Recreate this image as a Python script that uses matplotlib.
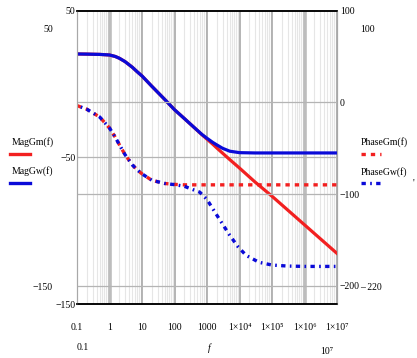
import numpy as np
import matplotlib.pyplot as plt
from matplotlib.lines import Line2D
from matplotlib.ticker import FixedLocator, NullFormatter

plt.rcParams["font.family"] = ["Liberation Serif", "DejaVu Serif"]
plt.rcParams["font.size"] = 7

# ---- data ----
# magnitude, dB (left axis)
f_mag = [0.1, 0.2, 0.5, 1, 1.5, 2, 3, 5, 7, 10, 20, 50, 100, 200, 500,
         700, 1000, 1500, 2000, 3000, 5000, 1e4, 3e4, 1e5, 1e6, 1e7]
mag_gw = [20.5, 20.4, 20.2, 19.8, 18.8, 17.6, 15.3, 11.5, 8.5, 5.5, -1.5, -10.5,
          -17.5, -23.5, -31.5, -34.4, -37.0, -39.8, -41.5, -43.8, -45.8, -46.8,
          -47.0, -47.0, -47.0, -47.0]
mag_gm = [20.5, 20.4, 20.2, 19.8, 18.8, 17.6, 15.3, 11.5, 8.5, 5.5, -1.5, -10.5,
          -17.5, -23.5, -31.6, -34.6, -37.6, -41.0, -43.6, -47.1, -51.5, -57.3,
          -66.8, -76.5, -96.0, -115.5]

# phase, deg (right axis)
f_ph = [0.1, 0.2, 0.5, 1, 1.5, 2, 3, 5, 7, 10, 20, 50, 100, 200, 300, 600,
        1000, 2000, 5000, 9000, 1.6e4, 4e4, 1e5, 3e5, 1e6, 1e7]
ph_gm = [-3.5, -7.5, -16, -28, -38, -46, -57, -68, -73.5, -78, -85, -88.5,
         -89.5, -90, -90, -90, -90, -90, -90, -90, -90, -90, -90, -90, -90, -90]
ph_gw = [-3.5, -7.5, -16, -28, -38, -46, -57, -68, -73.5, -78, -85, -88.5,
         -89.8, -91.5, -94, -98, -106, -123, -145, -157.5, -167, -174.5,
         -177.5, -178.6, -179, -179]

x_ticks = [0.1, 1, 10, 100, 1000, 1e4, 1e5, 1e6, 1e7]
x_labels = ["0.1", "1", "10", "100", "1000", "1×10⁴", "1×10⁵", "1×10⁶", "1×10⁷"]
left_ticks = [50, -50, -150]
left_labels = ["50", "−50", "−150"]
right_ticks = [100, 0, -100, -200]
right_labels = ["100", "0", "−100", "−200"]

W, H = 417, 358
fig = plt.figure(figsize=(W / 100, H / 100), dpi=100)


def px(x, y):
    return x / W, 1 - y / H


x0, y_top = 77, 10.7
x1, y_bot = 337, 304
ax = fig.add_axes([x0 / W, 1 - y_bot / H, (x1 - x0) / W, (y_bot - y_top) / H])
ax2 = ax.twinx()

ax.set_xscale("log")
ax.set_xlim(0.1, 1e7)
ax.set_ylim(-150, 50)
ax2.set_ylim(-220, 100)

# vertical grid: light minor lines, darker decades
minor = [m * 10.0 ** e for e in range(-1, 7) for m in range(2, 10)]
for v in minor:
    ax.axvline(v, color="#e6e6e6", lw=0.8, zorder=0)
for v in x_ticks:
    wide = v in (1, 1e6)
    ax.axvline(v, color="#bdbdbd" if wide else "#a8a8a8",
               lw=2.6 if wide else 1.2, zorder=0)
ax.xaxis.set_major_locator(FixedLocator(x_ticks))
ax.xaxis.set_minor_formatter(NullFormatter())
ax.set_xticklabels(x_labels)
ax.tick_params(axis="x", which="both", length=0, pad=14)

ax.set_yticks(left_ticks)
ax.set_yticklabels(left_labels)
ax.tick_params(axis="y", length=0, pad=1)
ax2.set_yticks(right_ticks)
ax2.set_yticklabels(right_labels)
ax2.tick_params(axis="y", length=0, pad=2)

for a in (ax, ax2):
    a.spines["top"].set_color("black")
    a.spines["bottom"].set_color("black")
    a.spines["top"].set_linewidth(1.1)
    a.spines["bottom"].set_linewidth(1.1)
    a.spines["left"].set_color("#a8a8a8")
    a.spines["right"].set_color("#a8a8a8")

ax.axhline(-50, color="#b4b4b4", lw=0.9, zorder=0)
for v in (0, -100, -200):
    ax2.axhline(v, color="#b4b4b4", lw=0.9, zorder=0)

blue = "#0a0ad8"
red = "#f22020"
ax.plot(f_mag, mag_gm, color=red, lw=2.3, zorder=3)
ax.plot(f_mag, mag_gw, color=blue, lw=2.3, zorder=4)
ax2.plot(f_ph, ph_gm, color=red, lw=2.4, linestyle=(0, (1.3, 1.5)))
ax2.plot(f_ph, ph_gw, color=blue, lw=2.4, linestyle=(1.4, (1.3, 1.3, 0.5, 1.3)))

# limit labels and axis names
fig.text(*px(53, 30), "50", ha="right", va="center")
fig.text(*px(53, 288), "−150", ha="right", va="center")
fig.text(*px(360, 30), "100", ha="left", va="center")
fig.text(*px(360, 288), "– 220", ha="left", va="center")
fig.text(*px(83, 347), "0.1", ha="center", va="center")
fig.text(*px(209, 348), "f", ha="center", va="center", style="italic")
fig.text(*px(327, 351), "10⁷", ha="center", va="center")
fig.text(*px(413, 183), "'", ha="center", va="center")

# legend-like labels
fig.text(*px(12, 142), "MagGm(f)", ha="left", va="center")
fig.text(*px(12, 171), "MagGw(f)", ha="left", va="center")
fig.text(*px(361, 142), "PhaseGm(f)", ha="left", va="center")
fig.text(*px(361, 172), "PhaseGw(f)", ha="left", va="center")


def sample(xa, xb, y, color, ls):
    (a, b), (c, d) = px(xa, y), px(xb, y)
    fig.add_artist(Line2D([a, c], [b, d], color=color, lw=2.4, linestyle=ls,
                          transform=fig.transFigure))


sample(10, 30, 154, red, "-")
sample(10, 30, 183, blue, "-")
sample(361, 381, 154, red, (0, (1.3, 1.5)))
sample(361, 381, 183, blue, (0, (1.3, 1.3, 0.5, 1.3)))

fig.savefig("out.png", dpi=100)
